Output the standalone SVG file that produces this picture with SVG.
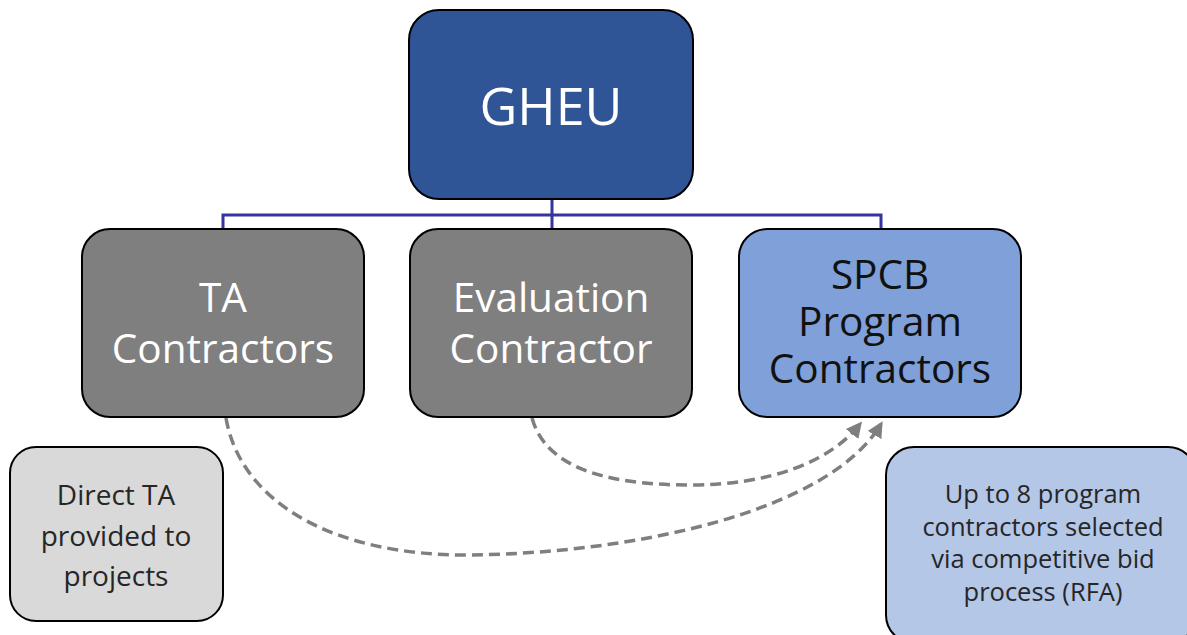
<svg xmlns="http://www.w3.org/2000/svg" width="1187" height="635" viewBox="0 0 1187 635">
<defs>
<style>
.box{stroke:#000;stroke-width:2}
.big{font-family:"Open Sans","Noto Sans",sans-serif;font-size:40.5px;fill:#fff;text-anchor:middle}
.dark{fill:#111}
.small{font-family:"Open Sans","Noto Sans",sans-serif;fill:#262626;text-anchor:middle}
.tree{fill:none;stroke:#3535A0;stroke-width:3}
.dash{fill:none;stroke:#7F7F7F;stroke-width:3.5;stroke-dasharray:11 6}
</style>
<marker id="arr" viewBox="0 0 10 10" refX="8" refY="5" markerWidth="16" markerHeight="16" markerUnits="userSpaceOnUse" orient="auto">
<path d="M0,0 L10,5 L0,10 z" fill="#7F7F7F"/>
</marker>
</defs>
<rect width="1187" height="635" fill="#fff"/>
<g id="connectors">
<path class="tree" d="M552,199 V215 M223,230 V215 H881 V230 M552,215 V230"/>
<path class="dash" d="M532,418 C545,465 600,485 690,485 C770,485 830,462 860,424" marker-end="url(#arr)"/>
<path class="dash" d="M226,418 C240,500 330,556 470,555 C640,553 830,510 881,424" marker-end="url(#arr)"/>
</g>
<g id="gheu">
<rect class="box" x="409" y="10" width="284" height="189" rx="30" fill="#2F5597"/>
<text class="big" x="551" y="125" style="font-size:52px">GHEU</text>
</g>
<g id="ta">
<rect class="box" x="82" y="229" width="282" height="188" rx="28" fill="#7F7F7F"/>
<text class="big" x="223" y="312">TA</text>
<text class="big" x="223" y="363">Contractors</text>
</g>
<g id="eval">
<rect class="box" x="410" y="229" width="282" height="188" rx="28" fill="#7F7F7F"/>
<text class="big" x="551" y="312">Evaluation</text>
<text class="big" x="551" y="363">Contractor</text>
</g>
<g id="spcb">
<rect class="box" x="739" y="229" width="282" height="188" rx="28" fill="#7FA0D9"/>
<text class="big dark" x="880" y="289">SPCB</text>
<text class="big dark" x="880" y="336">Program</text>
<text class="big dark" x="880" y="383">Contractors</text>
</g>
<g id="direct">
<rect class="box" x="10" y="447" width="213" height="174" rx="26" fill="#D9D9D9"/>
<text class="small" x="116" y="505" font-size="28">Direct TA</text>
<text class="small" x="116" y="546" font-size="28">provided to</text>
<text class="small" x="116" y="586" font-size="28">projects</text>
</g>
<g id="upto">
<rect class="box" x="886" y="447" width="310" height="196" rx="28" fill="#B4C7E7"/>
<text class="small" x="1043" y="503" font-size="25.5">Up to 8 program</text>
<text class="small" x="1043" y="536" font-size="25.5">contractors selected</text>
<text class="small" x="1043" y="568" font-size="25.5">via competitive bid</text>
<text class="small" x="1043" y="601" font-size="25.5">process (RFA)</text>
</g>
</svg>
